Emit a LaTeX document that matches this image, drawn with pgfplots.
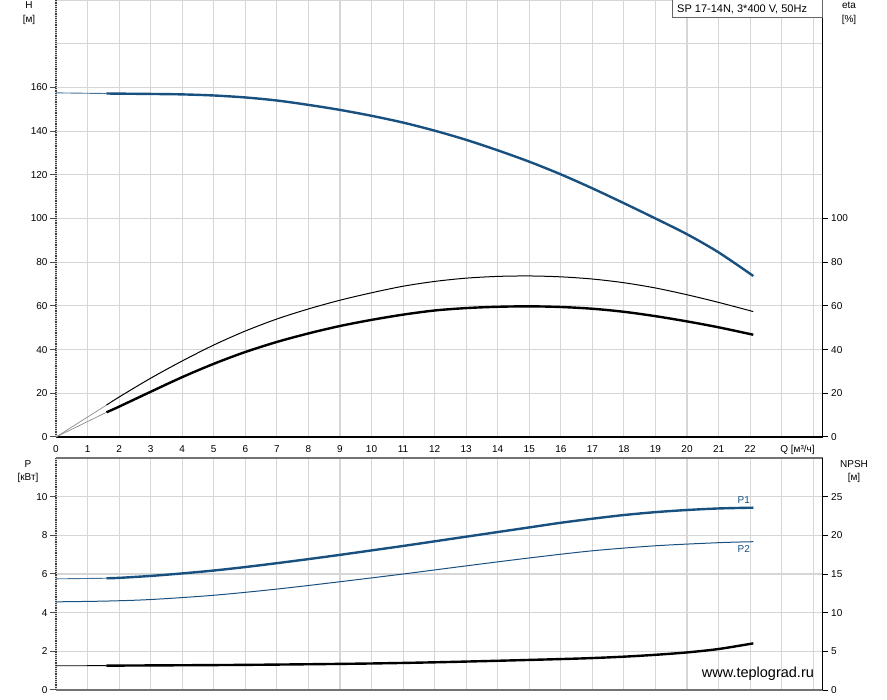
\documentclass[border=0pt]{standalone}
\usepackage{fontspec}
\setmainfont{Liberation Sans}
\usepackage{pgfplots}
\pgfplotsset{compat=1.18}
\definecolor{pblue}{RGB}{24,80,128}
\definecolor{gridc}{RGB}{214,214,214}
\begin{document}
\begin{tikzpicture}
\path[use as bounding box] (0pt,0pt) rectangle (887pt,-700pt);
\pgfplotsset{
  base/.style={
    scale only axis, width=766.7pt, xmin=0, xmax=24.3,
    tick style={draw=none},
    axis line style={draw=none},
    tick label style={font=\fontsize{10}{12}\selectfont},
    clip=false,
  },
}
% ===== Top: H =====
\begin{axis}[base, height=437pt, at={(56pt,0pt)}, anchor=north west,
  ymin=0, ymax=200,
  xtick={0,1,...,24},
  xticklabels={0,1,2,3,4,5,6,7,8,9,10,11,12,13,14,15,16,17,18,19,20,21,22,{},{}},
  xticklabel style={anchor=base, yshift=-15.5pt},
  ytick={0,20,...,200},
  yticklabels={0,20,40,60,80,100,120,140,160,{},{}},
  yticklabel style={xshift=-5pt},
  grid=major, grid style={gridc, line width=1.1pt},
]
\pgfplotsinvokeforeach{0,20,40,60,80,100,120,140,160}{
  \draw[black!70, line width=1pt] (axis cs:0,#1) -- ++(-6pt,0pt);
}
\draw[black!75, densely dotted, line width=1.2pt] (rel axis cs:0,0) -- (rel axis cs:0,1);
\draw[black, line width=1.3pt] (rel axis cs:0,0) -- (rel axis cs:1,0);
\draw[black, line width=1.3pt] (rel axis cs:1,0) -- (rel axis cs:1,1);
\addplot[pblue!80, line width=0.9pt] coordinates {(0,157.5) (1.6,157.2)};
\addplot[pblue, line width=2.4pt, smooth] coordinates {
(1.6,157.2) (3,157.0) (4,156.8) (5,156.3) (6,155.4) (7,154.0) (8,152.0)
(9,149.7) (10,147.0) (11,143.9) (12,140.2) (13,136.0) (14,131.2) (15,126.0)
(16,120.2) (17,113.8) (18,107.0) (19,100.0) (20,92.8) (21,84.5) (22.1,73.7)};
\node[anchor=base, font=\fontsize{10}{12}\selectfont] at ([yshift=-15.5pt]axis cs:23.5,0) {Q [м³/ч]};
\end{axis}
% ===== Top: eta =====
\begin{axis}[base, height=437pt, at={(56pt,0pt)}, anchor=north west,
  ymin=0, ymax=200, axis x line=none, axis y line*=right,
  ytick={0,20,40,60,80,100}, yticklabels={0,20,40,60,80,100},
  yticklabel style={xshift=5pt},
]
\pgfplotsinvokeforeach{0,20,40,60,80,100}{
  \draw[black, line width=1pt] (axis cs:24.3,#1) -- ++(5pt,0pt);
}
\addplot[black!45, line width=0.7pt] coordinates {(0,0) (1.6,14.6)};
\addplot[black!45, line width=0.7pt] coordinates {(0,0) (1.6,11.3)};
\addplot[black, line width=1pt, smooth] coordinates {
(1.6,14.6) (2,18.3) (3,26.9) (4,34.8) (5,42.1) (6,48.5) (7,54.0) (8,58.6)
(9,62.6) (10,66.0) (11,69.0) (12,71.2) (13,72.7) (14,73.5) (15,73.7)
(16,73.3) (17,72.3) (18,70.6) (19,68.2) (20,65.1) (21,61.6) (22.1,57.4)};
\addplot[black, line width=2.4pt, smooth] coordinates {
(1.6,11.3) (2,13.9) (3,20.7) (4,27.4) (5,33.5) (6,38.9) (7,43.5) (8,47.4)
(9,50.8) (10,53.6) (11,56.0) (12,57.9) (13,59.0) (14,59.6) (15,59.8)
(16,59.5) (17,58.7) (18,57.3) (19,55.3) (20,52.9) (21,50.2) (22.1,46.8)};
\end{axis}
% ===== Bottom: P =====
\begin{axis}[base, height=232pt, at={(56pt,-458pt)}, anchor=north west,
  ymin=0, ymax=12,
  xtick={0,1,...,24}, xticklabels={},
  ytick={0,2,...,12}, yticklabels={0,2,4,6,8,10,{}},
  yticklabel style={xshift=-5pt},
  grid=major, grid style={gridc, line width=1.1pt},
]
\pgfplotsinvokeforeach{0,2,4,6,8,10}{
  \draw[black!70, line width=1pt] (axis cs:0,#1) -- ++(-6pt,0pt);
}
\draw[black!75, densely dotted, line width=1.2pt] (rel axis cs:0,0) -- (rel axis cs:0,1);
\draw[black!55, line width=1.3pt] (rel axis cs:0,0) -- (rel axis cs:1,0);
\draw[black!55, line width=1.3pt] (rel axis cs:0,1) -- (rel axis cs:1,1);
\draw[black, line width=1.3pt] (rel axis cs:1,0) -- (rel axis cs:1,1);
\addplot[pblue!80, line width=0.9pt] coordinates {(0,5.75) (1.6,5.78)};
\addplot[pblue, line width=2.4pt, smooth] coordinates {
(1.6,5.78) (2,5.80) (3,5.90) (4,6.03) (5,6.18) (6,6.36) (7,6.56) (8,6.77)
(9,6.99) (10,7.22) (11,7.45) (12,7.69) (13,7.93) (14,8.17) (15,8.41)
(16,8.65) (17,8.86) (18,9.05) (19,9.20) (20,9.31) (21,9.39) (22.1,9.43)};
\addplot[pblue, line width=1pt, smooth] coordinates {
(0,4.56) (1.6,4.60) (3,4.68) (5,4.90) (7,5.22) (9,5.60) (11,6.00) (13,6.42)
(15,6.83) (17,7.20) (19,7.46) (21,7.62) (22.1,7.67)};
\node[text=pblue, font=\fontsize{10}{12}\selectfont] at (axis cs:21.8,9.85) {P1};
\node[text=pblue, font=\fontsize{10}{12}\selectfont] at (axis cs:21.8,7.3) {P2};
\end{axis}
% ===== Bottom: NPSH =====
\begin{axis}[base, height=232pt, at={(56pt,-458pt)}, anchor=north west,
  ymin=0, ymax=30, axis x line=none, axis y line*=right,
  ytick={0,5,10,15,20,25}, yticklabels={0,5,10,15,20,25},
  yticklabel style={xshift=5pt},
]
\pgfplotsinvokeforeach{0,5,10,15,20,25}{
  \draw[black, line width=1pt] (axis cs:24.3,#1) -- ++(5pt,0pt);
}
\addplot[black, line width=0.9pt] coordinates {(0,3.13) (1.6,3.15)};
\addplot[black, line width=2.4pt, smooth] coordinates {
(1.6,3.15) (4,3.20) (6,3.25) (8,3.33) (10,3.43) (12,3.58) (14,3.78)
(16,4.00) (17,4.13) (18,4.31) (19,4.55) (20,4.86) (21,5.30) (22.1,6.03)};
\end{axis}
% ===== Annotations =====
\begin{scope}[every node/.style={font=\fontsize{10}{12}\selectfont}]
\node at (29pt,-5pt) {H};
\node at (29pt,-20pt) {[м]};
\node at (849pt,-5pt) {eta};
\node at (849pt,-20pt) {[\%]};
\node at (28pt,-464pt) {P};
\node at (28pt,-478pt) {[кВт]};
\node at (854pt,-464pt) {NPSH};
\node at (854pt,-478pt) {[м]};
\end{scope}
\draw[black!60, fill=white, line width=0.8pt] (672pt,0.5pt) rectangle (822.7pt,-17.5pt);
\node[anchor=west, font=\fontsize{11}{13}\selectfont, inner sep=0pt] at (677pt,-9pt) {SP 17-14N, 3*400 V, 50Hz};
\node[anchor=base west, font=\fontsize{14.5}{16}\selectfont, inner sep=0pt] at (701.7pt,-677.3pt) {www.teplograd.ru};
\end{tikzpicture}
\end{document}
